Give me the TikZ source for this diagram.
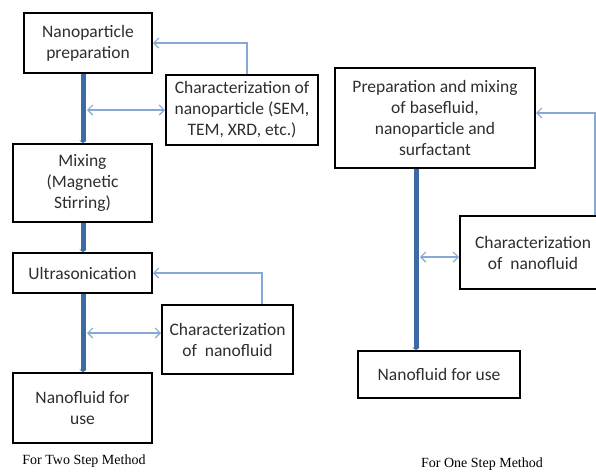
\documentclass[tikz,border=0pt]{standalone}
\usepackage{fontspec}
\setmainfont{Carlito}
\newfontfamily\capfont{Liberation Serif}
\usetikzlibrary{arrows.meta}
\definecolor{thickblue}{HTML}{3C6AA6}
\definecolor{thinblue}{HTML}{86A8D4}
\definecolor{txtgray}{HTML}{2E2E2E}
\tikzset{
  procbox/.style={draw=black, line width=2pt, fill=white, inner sep=0pt, align=center,
    text=txtgray, font=\fontsize{17.5}{21}\selectfont},
  mainflow/.style={draw=thickblue, line width=5pt, -{Triangle[length=2.5pt,width=7.5pt]}},
  fbline/.style={draw=thinblue, line width=1.2pt, -{Straight Barb[length=5pt,width=10pt]}},
  dblline/.style={draw=thinblue, line width=1.2pt, {Straight Barb[length=5pt,width=10pt]}-{Straight Barb[length=5pt,width=10pt]}},
  captext/.style={font=\capfont\fontsize{14}{16}\selectfont, text=black, inner sep=0pt}
}
\begin{document}
\begin{tikzpicture}[x=1pt,y=-1pt]
\useasboundingbox (0,0) rectangle (596,475);
% left column
\node[procbox, minimum width=128pt, minimum height=60pt] (A) at (88,43) {Nanoparticle\\preparation};
\node[procbox, minimum width=152pt, minimum height=70pt] (B) at (242,110) {Characterization of\\nanoparticle (SEM,\\TEM, XRD, etc.)};
\node[procbox, minimum width=139pt, minimum height=78pt] (C) at (82.5,183) {Mixing\\(Magnetic\\Stirring)};
\node[procbox, minimum width=139pt, minimum height=40pt] (D) at (82.5,273) {Ultrasonication};
\node[procbox, minimum width=131pt, minimum height=69pt] (E) at (227.5,339.5) {Characterization\\of\ \ nanofluid};
\node[procbox, minimum width=139pt, minimum height=70pt] (F) at (82.5,408) {Nanofluid for\\use};
% right column
\node[procbox, minimum width=200pt, minimum height=100pt] (G) at (435,118) {Preparation and mixing\\of basefluid,\\nanoparticle and\\surfactant};
\node[procbox, minimum width=146pt, minimum height=73pt] (H) at (533,252.5) {Characterization\\of\ \ nanofluid};
\node[procbox, minimum width=162pt, minimum height=47pt] (I) at (439,374.5) {Nanofluid for use};
% captions
\node[captext] (cap1) at (84,461) {For Two Step Method};
\node[captext] (cap2) at (482,464) {For One Step Method};
% main flow
\draw[mainflow] (A.south -| 83,0) -- (C.north -| 83,0);
\draw[mainflow] (C.south -| 83,0) -- (D.north -| 83,0);
\draw[mainflow] (D.south -| 83,0) -- (F.north -| 83,0);
\draw[mainflow] (G.south -| 416,0) -- (I.north -| 416,0);
% double arrows
\coordinate (p1) at (87,110);
\coordinate (p2) at (87,333);
\coordinate (p3) at (420,257);
\draw[dblline] (p1) -- (p1 -| B.west);
\draw[dblline] (p2) -- (p2 -| E.west);
\draw[dblline] (p3) -- (p3 -| H.west);
% feedback lines
\draw[fbline] (B.north -| 247,0) |- (A.east |- 0,43);
\draw[fbline] (E.north -| 262,0) |- (D.east);
\draw[fbline] (H.north -| 595,0) |- (G.east |- 0,113);
\end{tikzpicture}
\end{document}
